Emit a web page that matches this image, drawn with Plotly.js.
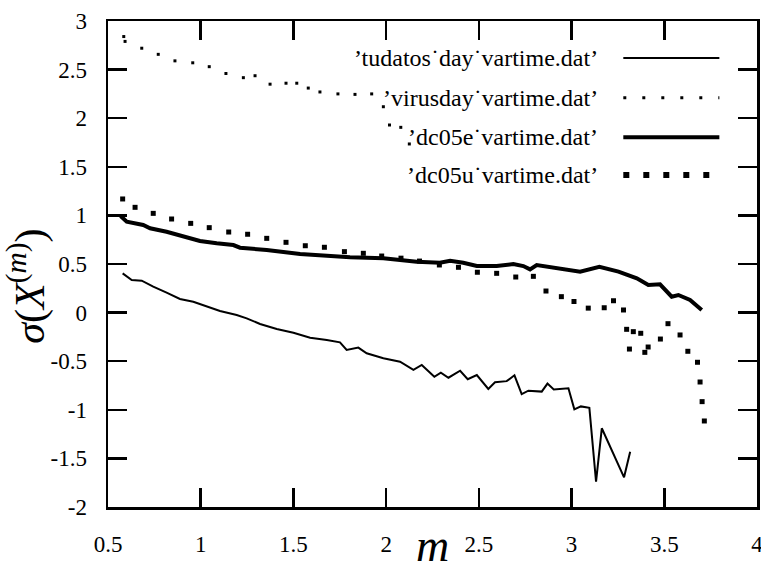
<!DOCTYPE html>
<html>
<head>
<meta charset="utf-8">
<script src="https://cdn.plot.ly/plotly-3.0.1.min.js"></script>
<style>html,body{margin:0;padding:0;background:#fff;}#chart{width:761px;height:571px;}</style>
</head>
<body>
<div id="chart"></div>
<script>
// ---- data ----
var seriesNames = ["’tudatos˙day˙vartime.dat’", "’virusday˙vartime.dat’", "’dc05e˙vartime.dat’", "’dc05u˙vartime.dat’"];

var tudatosX = [0.579,0.628,0.682,0.744,0.816,0.888,0.96,1.032,1.104,1.194,1.248,1.32,1.41,1.5,1.59,1.68,1.751,1.787,1.85,1.895,1.985,2.075,2.147,2.192,2.26,2.295,2.336,2.399,2.44,2.489,2.551,2.587,2.65,2.692,2.731,2.767,2.839,2.87,2.904,2.983,3.015,3.05,3.096,3.132,3.163,3.283,3.316];
var tudatosY = [0.404,0.335,0.328,0.267,0.205,0.14,0.112,0.061,0.016,-0.025,-0.059,-0.117,-0.169,-0.207,-0.258,-0.282,-0.306,-0.385,-0.36,-0.419,-0.47,-0.505,-0.59,-0.539,-0.66,-0.618,-0.67,-0.598,-0.685,-0.642,-0.785,-0.716,-0.705,-0.645,-0.838,-0.803,-0.813,-0.73,-0.79,-0.779,-0.995,-0.965,-0.98,-1.74,-1.19,-1.695,-1.431];

var virusX = [0.585,0.592,0.682,0.771,0.861,0.957,1.046,1.136,1.23,1.293,1.374,1.46,1.518,1.58,1.643,1.74,1.832,1.922,1.985,2.018,2.079,2.125];
var virusY = [2.84,2.79,2.72,2.657,2.59,2.57,2.53,2.46,2.417,2.437,2.35,2.36,2.36,2.31,2.27,2.25,2.245,2.25,2.118,1.93,1.906,1.735];

var dc05eX = [0.568,0.601,0.69,0.727,0.816,0.906,0.996,1.086,1.176,1.212,1.356,1.536,1.715,1.805,1.985,2.165,2.29,2.345,2.416,2.489,2.596,2.686,2.74,2.776,2.812,2.92,3.046,3.15,3.253,3.352,3.414,3.477,3.54,3.576,3.639,3.702];
var dc05eY = [0.994,0.935,0.901,0.867,0.832,0.781,0.737,0.713,0.695,0.668,0.644,0.603,0.575,0.569,0.559,0.524,0.513,0.534,0.513,0.479,0.479,0.5,0.479,0.445,0.49,0.456,0.421,0.472,0.421,0.353,0.284,0.291,0.164,0.181,0.13,0.027];

var dc05uX = [0.579,0.646,0.744,0.843,0.946,1.046,1.151,1.253,1.356,1.46,1.564,1.667,1.775,1.877,1.976,2.08,2.18,2.287,2.39,2.492,2.596,2.699,2.794,2.862,2.945,3.013,3.09,3.176,3.226,3.28,3.297,3.312,3.333,3.373,3.395,3.413,3.479,3.52,3.585,3.627,3.679,3.693,3.704,3.716];
var dc05uY = [1.169,1.083,1.021,0.963,0.918,0.874,0.829,0.806,0.764,0.723,0.688,0.672,0.627,0.61,0.582,0.56,0.53,0.49,0.466,0.415,0.404,0.366,0.373,0.222,0.164,0.114,0.046,0.05,0.122,0.027,-0.172,-0.375,-0.196,-0.213,-0.409,-0.354,-0.272,-0.114,-0.23,-0.398,-0.511,-0.714,-0.916,-1.115];

var xTickVals = [0.5,1,1.5,2,2.5,3,3.5,4];
var xTickLabels = ["0.5","1","1.5","2","2.5","3","3.5","4"];
var yTickVals = [-2,-1.5,-1,-0.5,0,0.5,1,1.5,2,2.5,3];
var yTickLabels = ["-2","-1.5","-1","-0.5","0","0.5","1","1.5","2","2.5","3"];

// ---- drawing ----
var SERIF = "Liberation Serif";
var traces = [
  {x: tudatosX, y: tudatosY, mode: 'lines', name: seriesNames[0], line: {color: '#000', width: 2}, showlegend: false},
  {x: virusX, y: virusY, mode: 'markers', name: seriesNames[1], marker: {color: '#000', size: 3, symbol: 'square'}, showlegend: false},
  {x: dc05eX, y: dc05eY, mode: 'lines', name: seriesNames[2], line: {color: '#000', width: 4}, showlegend: false},
  {x: dc05uX, y: dc05uY, mode: 'markers', name: seriesNames[3], marker: {color: '#000', size: 5, symbol: 'square'}, showlegend: false}
];

// gnuplot-style key: text right-aligned, sample on the right
var keyRows = [0.924, 0.842, 0.761, 0.683];
var keyStyles = [
  {width: 2, dash: 'solid'},
  {width: 3, dash: '3px,16px'},
  {width: 4, dash: 'solid'},
  {width: 6, dash: '6px,14px'}
];
var annotations = [];
var shapes = [];
seriesNames.forEach(function (n, i) {
  annotations.push({xref: 'paper', yref: 'paper', x: 0.758, y: keyRows[i], xanchor: 'right', yanchor: 'middle',
    text: n, showarrow: false, font: {family: SERIF, size: 24, color: '#000'}});
  shapes.push({type: 'line', xref: 'paper', yref: 'paper', x0: 0.794, x1: 0.942, y0: keyRows[i], y1: keyRows[i],
    line: {color: '#000', width: keyStyles[i].width, dash: keyStyles[i].dash}});
});
annotations.push({xref: 'paper', yref: 'paper', x: -0.125, y: 0.455, xanchor: 'center', yanchor: 'middle',
  textangle: -90, showarrow: false, text: '<i>σ</i>(<i>X</i><sup>(<i>m</i>)</sup>)',
  font: {family: SERIF, size: 42, color: '#000'}});

var layout = {
  width: 761, height: 571,
  margin: {l: 108, r: 4, t: 21, b: 64},
  paper_bgcolor: '#fff', plot_bgcolor: '#fff',
  font: {family: SERIF, size: 22, color: '#000'},
  xaxis: {
    range: [0.5, 4], tickmode: 'array', tickvals: xTickVals, ticktext: xTickLabels,
    showgrid: false, zeroline: false, showline: true, linecolor: '#000', linewidth: 2.5,
    mirror: 'ticks', ticks: 'inside', ticklen: 19, tickwidth: 2.5, tickcolor: '#000',
    tickfont: {family: SERIF, size: 23, color: '#000'}, ticklabelstandoff: 15, ticklabeloverflow: 'allow',
    title: {text: '<i>m</i>', font: {family: SERIF, size: 46, color: '#000'}, standoff: 0}
  },
  yaxis: {
    range: [-2, 3], tickmode: 'array', tickvals: yTickVals, ticktext: yTickLabels,
    showgrid: false, zeroline: false, showline: true, linecolor: '#000', linewidth: 2.5,
    mirror: 'ticks', ticks: 'inside', ticklen: 19, tickwidth: 2.5, tickcolor: '#000',
    tickfont: {family: SERIF, size: 23, color: '#000'}, ticklabelstandoff: 14
  },
  annotations: annotations,
  shapes: shapes
};

Plotly.newPlot('chart', traces, layout, {displayModeBar: false, staticPlot: true});
</script>
</body>
</html>
